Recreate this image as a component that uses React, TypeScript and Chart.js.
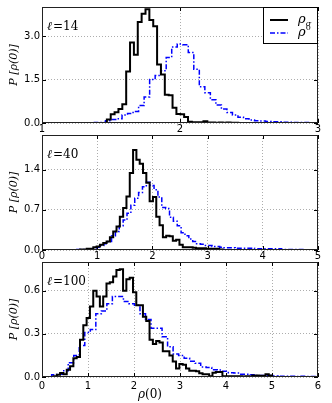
import React, { useEffect, useRef } from 'react';
import { Chart, registerables } from 'chart.js';

Chart.register(...registerables);

// ---------------- data ----------------
// Panel 1 (ℓ = 14)
const P1_LABEL = ['ℓ', '=14'];
const P1_X_RANGE = [1, 3];
const P1_X_TICKS = [1, 2, 3];
const P1_Y_MAX = 4.0;
const P1_Y_TICKS = [0, 1.5, 3.0];
const P1_SIGMA_START = 1.47;
const P1_SIGMA_BIN = 0.028;
const P1_SIGMA = [0.12, 0.30, 0.37, 0.48, 0.65, 1.78, 2.78, 2.35, 3.48, 3.77, 3.92, 3.55, 3.34, 2.02, 1.67, 0.97, 0.96, 0.53, 0.31, 0.30, 0.21, 0.04, 0.03, 0.03, 0.03, 0.06, 0.02, 0.02, 0.01, 0.02, 0.01, 0.02, 0.01, 0.01];
const P1_ZERO_START = 1.30;
const P1_ZERO_BIN = 0.04;
const P1_ZERO = [0.01, 0.01, 0.02, 0.02, 0.08, 0.12, 0.15, 0.28, 0.33, 0.40, 0.60, 0.90, 1.50, 1.64, 1.80, 2.26, 2.62, 2.72, 2.70, 2.43, 1.85, 1.25, 1.04, 0.80, 0.62, 0.48, 0.36, 0.28, 0.20, 0.15, 0.10, 0.08, 0.07, 0.05, 0.04, 0.04, 0.03, 0.03, 0.02, 0.02, 0.02, 0.01];

// Panel 2 (ℓ = 40)
const P2_LABEL = ['ℓ', '=40'];
const P2_X_RANGE = [0, 5];
const P2_X_TICKS = [0, 1, 2, 3, 4, 5];
const P2_Y_MAX = 2.0;
const P2_Y_TICKS = [0, 0.7, 1.4];
const P2_SIGMA_START = 0.69;
const P2_SIGMA_BIN = 0.06;
const P2_SIGMA = [0.01, 0.01, 0.02, 0.02, 0.05, 0.06, 0.09, 0.12, 0.15, 0.22, 0.32, 0.41, 0.58, 0.73, 0.93, 1.34, 1.74, 1.57, 1.50, 1.34, 1.17, 0.85, 0.92, 0.58, 0.43, 0.22, 0.25, 0.24, 0.16, 0.18, 0.09, 0.05, 0.05, 0.05, 0.04, 0.03, 0.03, 0.03, 0.02, 0.02, 0.02, 0.02, 0.01];
const P2_ZERO_START = 0.63;
const P2_ZERO_BIN = 0.07;
const P2_ZERO = [0.01, 0.01, 0.01, 0.02, 0.03, 0.05, 0.08, 0.11, 0.15, 0.25, 0.32, 0.42, 0.52, 0.64, 0.78, 0.90, 1.00, 1.10, 1.18, 1.12, 1.05, 0.92, 0.74, 0.72, 0.57, 0.50, 0.42, 0.30, 0.25, 0.19, 0.15, 0.11, 0.10, 0.08, 0.08, 0.06, 0.06, 0.05, 0.04, 0.04, 0.04, 0.03, 0.03, 0.03, 0.03, 0.03, 0.02, 0.02, 0.02, 0.02, 0.02, 0.02, 0.02, 0.01, 0.01, 0.01, 0.01, 0.01, 0.01];

// Panel 3 (ℓ = 100)
const P3_LABEL = ['ℓ', '=100'];
const P3_X_RANGE = [0, 6];
const P3_X_TICKS = [0, 1, 2, 3, 4, 5, 6];
const P3_Y_MAX = 0.8;
const P3_Y_TICKS = [0, 0.3, 0.6];
const P3_SIGMA_START = 0.25;
const P3_SIGMA_BIN = 0.072;
const P3_SIGMA = [0.005, 0.016, 0.028, 0.02, 0.05, 0.075, 0.13, 0.14, 0.26, 0.36, 0.41, 0.49, 0.60, 0.56, 0.49, 0.56, 0.65, 0.66, 0.70, 0.745, 0.75, 0.60, 0.68, 0.69, 0.59, 0.50, 0.50, 0.42, 0.39, 0.26, 0.23, 0.25, 0.24, 0.18, 0.18, 0.15, 0.107, 0.06, 0.09, 0.085, 0.06, 0.044, 0.044, 0.04, 0.026, 0.02, 0.02, 0.005, 0.03, 0.035, 0.035, 0.005, 0.005, 0.005, 0.005, 0.005, 0.005, 0.003, 0.005, 0.003, 0.01, 0.01, 0.008, 0.008, 0.02, 0.01];
const P3_ZERO_START = 0.21;
const P3_ZERO_BIN = 0.12;
const P3_ZERO = [0.016, 0.02, 0.043, 0.10, 0.15, 0.22, 0.31, 0.33, 0.44, 0.46, 0.51, 0.56, 0.56, 0.525, 0.51, 0.50, 0.44, 0.40, 0.34, 0.34, 0.28, 0.21, 0.16, 0.15, 0.13, 0.11, 0.095, 0.07, 0.066, 0.05, 0.048, 0.04, 0.03, 0.028, 0.02, 0.02, 0.015, 0.01, 0.01, 0.01, 0.007, 0.005, 0.006, 0.005, 0.004, 0.005, 0.004, 0.004];

const SERIES_NAMES = ['ρσ', 'ρ0'];
const Y_TITLE = 'P [ρ(0)]';
const X_TITLE = ['ρ', '(0)'];

// ---------------- layout / style ----------------
const W = 332;
const PLOT_LEFT = 42;
const PLOT_RIGHT_PAD = W - 318;
// stacked canvas bands (no overlap): band height, plot top / bottom inside the band
const LAYOUT = [
  { canvasH: 133, top: 7, bottom: 123, xTickPad: 0, legend: true, xTitle: false },
  { canvasH: 127, top: 2, bottom: 117, xTickPad: 0, legend: false, xTitle: false },
  { canvasH: 143, top: 2, bottom: 117, xTickPad: 3, legend: false, xTitle: true },
];
const BLACK = '#000000';
const BLUE = '#0000ff';
const BLUE_DASH = [5, 2, 1.5, 2];
const GRID = 'rgba(0,0,0,0.32)';
const TICK_FONT = { family: 'DejaVu Sans', size: 10 };

const PANELS = [
  { label: P1_LABEL, xr: P1_X_RANGE, xt: P1_X_TICKS, ymax: P1_Y_MAX, yt: P1_Y_TICKS,
    s: [P1_SIGMA_START, P1_SIGMA_BIN, P1_SIGMA], z: [P1_ZERO_START, P1_ZERO_BIN, P1_ZERO] },
  { label: P2_LABEL, xr: P2_X_RANGE, xt: P2_X_TICKS, ymax: P2_Y_MAX, yt: P2_Y_TICKS,
    s: [P2_SIGMA_START, P2_SIGMA_BIN, P2_SIGMA], z: [P2_ZERO_START, P2_ZERO_BIN, P2_ZERO] },
  { label: P3_LABEL, xr: P3_X_RANGE, xt: P3_X_TICKS, ymax: P3_Y_MAX, yt: P3_Y_TICKS,
    s: [P3_SIGMA_START, P3_SIGMA_BIN, P3_SIGMA], z: [P3_ZERO_START, P3_ZERO_BIN, P3_ZERO] },
];

// step outline of a histogram: up at the first edge, flat across each bin, down at the last edge
function stepPoints(start: number, bin: number, vals: number[]) {
  const pts: { x: number; y: number }[] = [{ x: start, y: 0 }];
  vals.forEach((v, i) => {
    pts.push({ x: start + i * bin, y: v });
    pts.push({ x: start + (i + 1) * bin, y: v });
  });
  pts.push({ x: start + vals.length * bin, y: 0 });
  return pts;
}

function drawRho(ctx: CanvasRenderingContext2D, x: number, y: number, small: string, mode: 'sub' | 'sup') {
  ctx.font = 'italic 13px "DejaVu Serif"';
  ctx.textBaseline = 'middle';
  ctx.fillText('ρ', x, y);
  const w = ctx.measureText('ρ').width;
  if (mode === 'sub') {
    ctx.font = 'italic 8px "DejaVu Serif"';
    ctx.fillText(small, x + w, y + 4);
  } else {
    ctx.font = '8px "DejaVu Serif"';
    ctx.fillText(small, x + w, y - 5);
  }
}

const decorPlugin = {
  id: 'panelDecor',
  afterDraw(chart: any, _args: any, opts: any) {
    const { ctx, chartArea: a, scales } = chart;
    const xs = scales.x;
    const ys = scales.y;
    ctx.save();
    ctx.strokeStyle = BLACK;
    ctx.lineWidth = 1;
    ctx.setLineDash([]);
    ctx.beginPath();
    for (const t of xs.ticks) {
      const px = Math.round(xs.getPixelForValue(t.value)) + 0.5;
      ctx.moveTo(px, a.bottom); ctx.lineTo(px, a.bottom - 4);
      ctx.moveTo(px, a.top); ctx.lineTo(px, a.top + 4);
    }
    for (const t of ys.ticks) {
      const py = Math.round(ys.getPixelForValue(t.value)) + 0.5;
      ctx.moveTo(a.left, py); ctx.lineTo(a.left + 4, py);
      ctx.moveTo(a.right, py); ctx.lineTo(a.right - 4, py);
    }
    ctx.stroke();
    ctx.strokeStyle = '#222';
    ctx.strokeRect(a.left + 0.5, a.top + 0.5, a.right - a.left - 1, a.bottom - a.top - 1);

    // ℓ annotation
    ctx.fillStyle = BLACK;
    ctx.textBaseline = 'middle';
    const ly = a.top + 20;
    let lx = a.left + 5;
    ctx.font = 'italic 12px "DejaVu Serif"';
    ctx.fillText(opts.label[0], lx, ly);
    lx += ctx.measureText(opts.label[0]).width + 1;
    ctx.font = '12px "DejaVu Serif"';
    ctx.fillText(opts.label[1], lx, ly);

    if (opts.legend) {
      const bx = a.right - 55;
      const by = a.top;
      ctx.fillStyle = '#fff';
      ctx.fillRect(bx, by, 55, 37);
      ctx.strokeStyle = BLACK;
      ctx.strokeRect(bx + 0.5, by + 0.5, 54, 36);
      const rows = [by + 13, by + 26];
      ctx.lineWidth = 2;
      ctx.beginPath();
      ctx.moveTo(bx + 7, rows[0]); ctx.lineTo(bx + 25, rows[0]);
      ctx.stroke();
      ctx.lineWidth = 1.5;
      ctx.strokeStyle = BLUE;
      ctx.setLineDash(BLUE_DASH);
      ctx.beginPath();
      ctx.moveTo(bx + 7, rows[1]); ctx.lineTo(bx + 25, rows[1]);
      ctx.stroke();
      ctx.setLineDash([]);
      ctx.fillStyle = BLACK;
      drawRho(ctx, bx + 35, rows[0], SERIES_NAMES[0].slice(1), 'sub');
      drawRho(ctx, bx + 35, rows[1], SERIES_NAMES[1].slice(1), 'sup');
    }

    if (opts.xTitle) {
      ctx.fillStyle = BLACK;
      ctx.textBaseline = 'middle';
      const ty = a.bottom + 18;
      let tx = 138;
      ctx.font = 'italic 12px "DejaVu Serif"';
      ctx.fillText(X_TITLE[0], tx, ty);
      tx += ctx.measureText(X_TITLE[0]).width;
      ctx.font = '12px "DejaVu Serif"';
      ctx.fillText(X_TITLE[1], tx, ty);
    }
    ctx.restore();
  },
};

function Panel({ idx }: { idx: number }) {
  const ref = useRef<HTMLCanvasElement>(null);
  const L = LAYOUT[idx];
  useEffect(() => {
    const p = PANELS[idx];
    const xAxisH = L.canvasH - L.bottom;
    const chart = new Chart(ref.current!, {
      type: 'line',
      data: {
        datasets: [
          {
            data: stepPoints(p.s[0] as number, p.s[1] as number, p.s[2] as number[]),
            borderColor: BLACK,
            borderWidth: 2,
            pointRadius: 0,
          },
          {
            data: stepPoints(p.z[0] as number, p.z[1] as number, p.z[2] as number[]),
            borderColor: BLUE,
            borderWidth: 1.5,
            borderDash: BLUE_DASH,
            pointRadius: 0,
          },
        ],
      },
      options: {
        animation: false,
        responsive: false,
        events: [],
        layout: { padding: { top: L.top, left: 0, right: PLOT_RIGHT_PAD, bottom: 0 } },
        plugins: {
          legend: { display: false },
          tooltip: { enabled: false },
          panelDecor: { label: p.label, legend: L.legend, xTitle: L.xTitle },
        } as any,
        scales: {
          x: {
            type: 'linear',
            min: p.xr[0],
            max: p.xr[1],
            afterBuildTicks: (s: any) => { s.ticks = p.xt.map((v) => ({ value: v })); },
            afterFit: (s: any) => { s.height = xAxisH; s.paddingLeft = 0; s.paddingRight = 0; },
            ticks: {
              font: TICK_FONT,
              color: BLACK,
              padding: L.xTickPad,
              maxRotation: 0,
              autoSkip: false,
              callback: (v: any) => String(v),
            },
            grid: { color: GRID, lineWidth: 1, drawTicks: false },
            border: { display: false, dash: [1, 2] },
          },
          y: {
            type: 'linear',
            min: 0,
            max: p.ymax,
            afterBuildTicks: (s: any) => { s.ticks = p.yt.map((v) => ({ value: v })); },
            afterFit: (s: any) => { s.width = PLOT_LEFT; s.paddingTop = 0; s.paddingBottom = 0; },
            ticks: {
              font: TICK_FONT,
              color: BLACK,
              padding: 2,
              callback: (v: any) => Number(v).toFixed(1),
            },
            grid: { color: GRID, lineWidth: 1, drawTicks: false },
            border: { display: false, dash: [1, 2] },
            title: {
              display: true,
              text: Y_TITLE,
              color: BLACK,
              font: { family: 'DejaVu Serif', style: 'italic', size: 11 },
              padding: { top: 8, bottom: 0 },
            },
          },
        },
      },
      plugins: [decorPlugin],
    } as any);
    return () => chart.destroy();
  }, [idx]);
  return <canvas ref={ref} width={W} height={L.canvasH} style={{ display: 'block', width: W, height: L.canvasH }} />;
}

export default function App() {
  return (
    <div style={{ position: 'absolute', left: 0, top: 0, width: W, background: '#fff' }}>
      <Panel idx={0} />
      <Panel idx={1} />
      <Panel idx={2} />
    </div>
  );
}
